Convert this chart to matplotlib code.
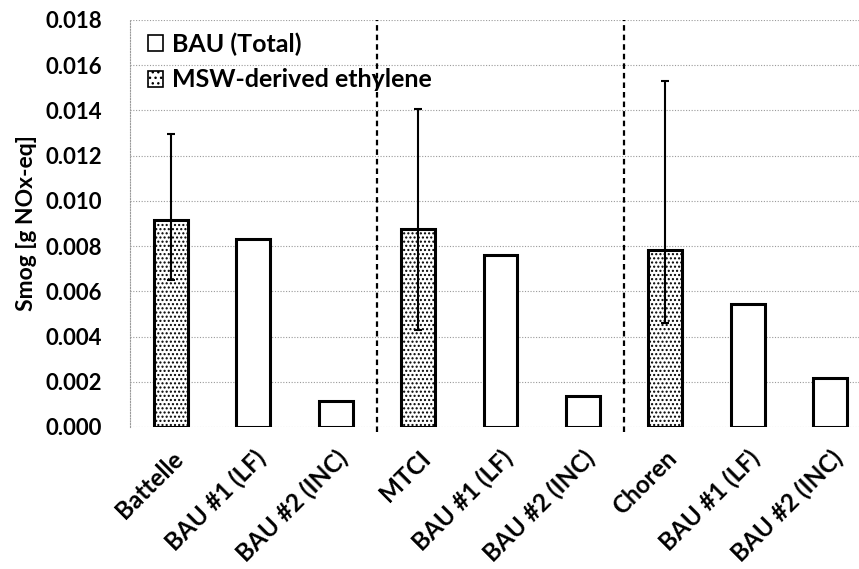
import matplotlib
matplotlib.use("Agg")
import matplotlib.pyplot as plt
from matplotlib.patches import Patch
from matplotlib.transforms import ScaledTranslation
import numpy as np

categories = ["Battelle", "BAU #1 (LF)", "BAU #2 (INC)",
              "MTCI", "BAU #1 (LF)", "BAU #2 (INC)",
              "Choren", "BAU #1 (LF)", "BAU #2 (INC)"]
smog = [0.00914, 0.00831, 0.00115,
        0.00874, 0.00760, 0.00137,
        0.00781, 0.00543, 0.00216]
is_msw = [True, False, False, True, False, False, True, False, False]
err_low = [0.00649, None, None, 0.00428, None, None, 0.00459, None, None]
err_high = [0.01294, None, None, 0.01408, None, None, 0.01528, None, None]
yticks = [0.000, 0.002, 0.004, 0.006, 0.008, 0.010, 0.012, 0.014, 0.016, 0.018]

plt.rcParams["font.family"] = ["Lato", "DejaVu Sans"]
plt.rcParams["hatch.color"] = "#555555"
plt.rcParams["hatch.linewidth"] = 1.0

fig = plt.figure(figsize=(8.59, 5.69), dpi=100)
ax = fig.add_axes([0.151, 0.2496, 0.849, 0.7154])

x = np.arange(len(categories))
for xi, v, msw in zip(x, smog, is_msw):
    ax.bar(xi, v, width=0.41, facecolor="white", edgecolor="black",
           linewidth=2.2, hatch="...." if msw else None, zorder=3)

for xi, lo, hi, v in zip(x, err_low, err_high, smog):
    if lo is None:
        continue
    ax.errorbar(xi, v, yerr=[[v - lo], [hi - v]], fmt="none", ecolor="black",
                elinewidth=1.5, capsize=3, capthick=1.5, zorder=4)

for sep in (2.5, 5.5):
    ax.axvline(sep, color="black", linestyle=(0, (2.5, 1.8)), linewidth=1.6,
               ymin=-0.012, clip_on=False, zorder=2)

ax.set_xlim(-0.5, 8.35)
ax.set_ylim(0, 0.018)
ax.set_yticks(yticks)
ax.set_yticklabels([f"{t:.3f}" for t in yticks], fontsize=16, fontweight="bold")
ax.set_xticks(x)
ax.set_xticklabels(categories, rotation=45, ha="right", rotation_mode="anchor",
                   fontsize=17.5, fontweight="bold")
shift = ScaledTranslation(-0.06, 0, fig.dpi_scale_trans)
for lbl in ax.get_xticklabels():
    lbl.set_transform(lbl.get_transform() + shift)
ax.tick_params(axis="y", length=0, pad=20)
ax.tick_params(axis="x", length=0, pad=14)
ax.grid(axis="y", color="#9a9a9a", linestyle=(0, (1, 1.5)), linewidth=0.8, zorder=0)
for s in ("top", "right", "bottom"):
    ax.spines[s].set_visible(False)
ax.spines["left"].set_color("#9a9a9a")
ax.spines["left"].set_linestyle((0, (1, 1.5)))
ax.spines["left"].set_linewidth(0.8)

ax.set_ylabel("Smog [g NOx-eq]", fontsize=16.5, fontweight="bold", labelpad=6)

handles = [Patch(facecolor="white", edgecolor="black", linewidth=1.2, label="BAU (Total)"),
           Patch(facecolor="white", edgecolor="black", linewidth=1.2, hatch="...",
                 label="MSW-derived ethylene")]
leg = ax.legend(handles=handles, loc="upper left", bbox_to_anchor=(0.008, 1.0),
                frameon=False, prop={"size": 18, "weight": "bold"},
                handlelength=0.6, handleheight=0.6, handletextpad=0.35,
                labelspacing=0.5, borderaxespad=0.1)

fig.savefig("out.png", dpi=100)
